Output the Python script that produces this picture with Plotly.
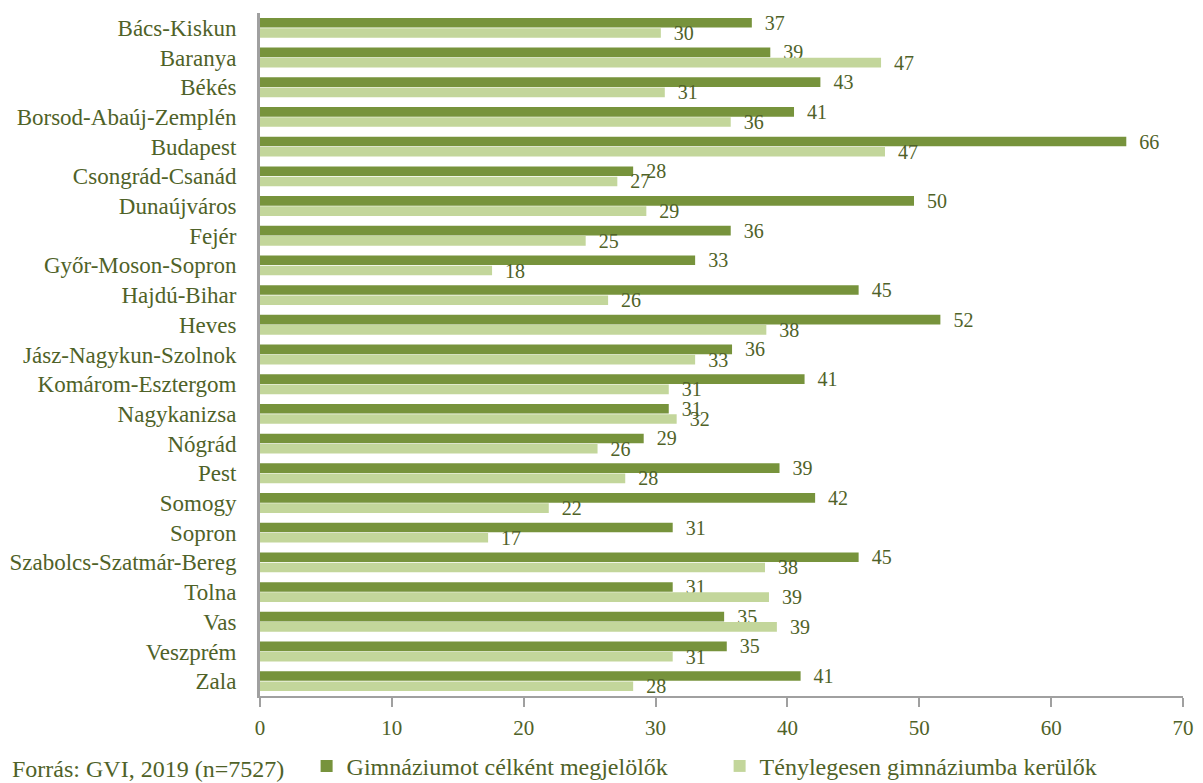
import plotly.graph_objects as go

categories = ["Bács-Kiskun", "Baranya", "Békés", "Borsod-Abaúj-Zemplén", "Budapest",
              "Csongrád-Csanád", "Dunaújváros", "Fejér", "Győr-Moson-Sopron", "Hajdú-Bihar",
              "Heves", "Jász-Nagykun-Szolnok", "Komárom-Esztergom", "Nagykanizsa", "Nógrád",
              "Pest", "Somogy", "Sopron", "Szabolcs-Szatmár-Bereg", "Tolna", "Vas",
              "Veszprém", "Zala"]

target_pct = [37.3, 38.7, 42.5, 40.5, 65.7, 28.3, 49.6, 35.7, 33.0, 45.4, 51.6, 35.8,
              41.3, 31.0, 29.1, 39.4, 42.1, 31.3, 45.4, 31.3, 35.2, 35.4, 41.0]
actual_pct = [30.4, 47.1, 30.7, 35.7, 47.4, 27.1, 29.3, 24.7, 17.6, 26.4, 38.4, 33.0,
              31.0, 31.6, 25.6, 27.7, 21.9, 17.3, 38.3, 38.6, 39.2, 31.3, 28.3]

series_names = ["Gimnáziumot célként megjelölők", "Ténylegesen gimnáziumba kerülők"]
x_ticks = [0, 10, 20, 30, 40, 50, 60, 70]
source_text = "Forrás: GVI, 2019 (n=7527)"

DARK = "#77933C"
LIGHT = "#C3D69B"
TEXT = "#4F6228"
AXIS = "#A0A0A0"
FONT = "Palatino Linotype, Book Antiqua, Palatino, Liberation Serif, serif"

fig = go.Figure()
for name, vals, col in [(series_names[0], target_pct, DARK), (series_names[1], actual_pct, LIGHT)]:
    fig.add_trace(go.Bar(
        y=categories, x=vals, name=name, orientation="h",
        marker=dict(color=col, line=dict(width=0)),
        texttemplate="\u00a0\u00a0%{x:.0f}", textposition="outside",
        textfont=dict(family=FONT, size=20, color=TEXT),
        constraintext="none", cliponaxis=False, hoverinfo="skip",
    ))

fig.update_layout(
    width=1203, height=783,
    margin=dict(l=260, r=20, t=13, b=87, pad=0, autoexpand=False),
    paper_bgcolor="white", plot_bgcolor="white",
    barmode="group", bargap=0.31, bargroupgap=0.06,
    font=dict(family=FONT, color=TEXT),
    showlegend=True,
    legend=dict(orientation="h", traceorder="normal", x=0.0505, xanchor="left",
                y=-0.07, yanchor="top", font=dict(family=FONT, size=24, color=TEXT),
                entrywidth=368, entrywidthmode="pixels", itemwidth=30),
    xaxis=dict(range=[0, 70], tickvals=x_ticks, showgrid=False, zeroline=False,
               showline=True, linecolor=AXIS, linewidth=2,
               ticks="outside", ticklen=9, tickwidth=1.5, tickcolor=AXIS,
               ticklabelstandoff=3,
               tickfont=dict(family=FONT, size=21, color=TEXT)),
    yaxis=dict(categoryorder="array", categoryarray=categories, autorange="reversed",
               showgrid=False, zeroline=False, showline=True, linecolor=AXIS, linewidth=3,
               ticks="", ticklabelstandoff=16,
               tickfont=dict(family=FONT, size=23, color=TEXT)),
    annotations=[dict(text=source_text, xref="paper", yref="paper", x=-0.271, y=-0.107,
                      xanchor="left", yanchor="middle", showarrow=False,
                      font=dict(family=FONT, size=24, color=TEXT))],
)

fig.write_html("out.html", config={"displayModeBar": False},
               post_script="document.body.style.margin='0';")
